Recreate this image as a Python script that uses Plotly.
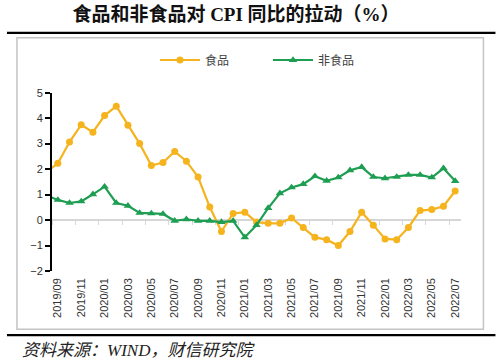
import plotly.graph_objects as go

months = ["2019/08", "2019/09", "2019/10", "2019/11", "2019/12",
          "2020/01", "2020/02", "2020/03", "2020/04", "2020/05", "2020/06",
          "2020/07", "2020/08", "2020/09", "2020/10", "2020/11", "2020/12",
          "2021/01", "2021/02", "2021/03", "2021/04", "2021/05", "2021/06",
          "2021/07", "2021/08", "2021/09", "2021/10", "2021/11", "2021/12",
          "2022/01", "2022/02", "2022/03", "2022/04", "2022/05", "2022/06",
          "2022/07"]
food = [1.86, 2.23, 3.06, 3.74, 3.45, 4.10, 4.47, 3.72, 3.00, 2.14, 2.26,
        2.69, 2.31, 1.69, 0.51, -0.45, 0.26, 0.31, -0.08, -0.13, -0.13,
        0.08, -0.29, -0.68, -0.77, -1.00, -0.45, 0.31, -0.20, -0.74, -0.77,
        -0.29, 0.37, 0.41, 0.54, 1.14]
nonfood = [0.97, 0.79, 0.67, 0.73, 1.01, 1.31, 0.67, 0.56, 0.28, 0.26, 0.24,
           -0.03, 0.03, -0.03, -0.03, -0.08, -0.03, -0.68, -0.20, 0.47, 1.05,
           1.28, 1.41, 1.72, 1.54, 1.67, 1.95, 2.08, 1.69, 1.64, 1.69, 1.77,
           1.77, 1.67, 2.03, 1.53]

ORANGE = "#F5B31E"
GREEN = "#1E9E52"

W, H = 500, 363
ML, MR, MT, MB = 52, 39.4, 89, 92.3
PW, PH = W - ML - MR, H - MT - MB

def px(x):
    return (x - ML) / PW

def py(y):
    return 1 - (y - MT) / PH

fig = go.Figure()
fig.add_trace(go.Scatter(
    x=months, y=food, name="食品", mode="lines+markers",
    line=dict(color=ORANGE, width=2.2),
    marker=dict(symbol="circle", size=7, color=ORANGE)))
fig.add_trace(go.Scatter(
    x=months, y=nonfood, name="非食品", mode="lines+markers",
    line=dict(color=GREEN, width=2.2),
    marker=dict(symbol="triangle-up", size=7.5, color=GREEN)))
fig.add_trace(go.Scatter(
    x=months, y=[None] * len(months), xaxis="x2", showlegend=False,
    hoverinfo="skip", mode="lines"))

fig.update_layout(
    width=W, height=H,
    margin=dict(l=ML, r=MR, t=MT, b=MB),
    paper_bgcolor="white", plot_bgcolor="white",
    font=dict(family="Liberation Sans, Noto Sans CJK SC", color="#333333"),
    title=dict(text="食品和非食品对 CPI 同比的拉动（%）",
               x=0.472, xanchor="center", xref="container",
               y=1 - 14 / H, yanchor="middle", yref="container",
               font=dict(family="Liberation Serif, Noto Sans CJK SC",
                         size=19, color="#111111", weight="bold")),
    showlegend=True,
    legend=dict(orientation="h", xref="container", yref="container",
                x=0.31, xanchor="left", y=1 - 60 / H, yanchor="middle",
                font=dict(size=12, color="#404040"),
                bgcolor="rgba(0,0,0,0)", entrywidth=58, itemwidth=40),
    xaxis=dict(type="category", categoryorder="array", categoryarray=months,
               range=[0.5, 35.5], tickmode="linear", tick0=1, dtick=2,
               tickangle=-90, ticks="", showline=False, showgrid=False,
               zeroline=False, tickfont=dict(size=11, color="#333333"),
               ticklabelstandoff=4),
    xaxis2=dict(type="category", categoryorder="array", categoryarray=months,
                overlaying="x", anchor="free", position=2 / 7,
                range=[0.5, 35.5], tickmode="linear", tick0=1, dtick=2,
                tickson="boundaries", ticks="outside", ticklen=4,
                tickwidth=1.2, tickcolor="#D6D6D6",
                showline=True, linecolor="#D6D6D6", linewidth=2,
                showticklabels=False, showgrid=False, zeroline=False,
                layer="below traces"),
    yaxis=dict(range=[-2, 5], dtick=1, showline=True, linecolor="black",
               linewidth=2, ticks="outside", ticklen=5, tickwidth=1.5,
               tickcolor="black", showgrid=False, zeroline=False,
               tickfont=dict(size=11, color="#333333")),
    shapes=[
        dict(type="rect", xref="paper", yref="paper",
             x0=px(17), x1=px(483), y0=py(330), y1=py(33),
             line=dict(color="#C4C4C4", width=1.5), layer="above"),
        dict(type="line", xref="paper", yref="paper",
             x0=px(7), x1=px(495), y0=py(28), y1=py(28),
             line=dict(color="black", width=2.2)),
        dict(type="line", xref="paper", yref="paper",
             x0=px(7), x1=px(495), y0=py(336), y1=py(336),
             line=dict(color="black", width=2.2)),
    ],
    annotations=[
        dict(text="<i>资料来源：WIND，财信研究院</i>", xref="paper", yref="paper",
             x=px(20), y=py(352), xanchor="left", yanchor="middle",
             showarrow=False,
             font=dict(family="Liberation Serif, Noto Sans CJK SC", size=17,
                       color="#222222")),
    ],
)

fig.write_html(
    "out.html",
    config={"displayModeBar": False},
    post_script="document.body.style.margin='0';"
                "document.body.style.overflow='hidden';")
